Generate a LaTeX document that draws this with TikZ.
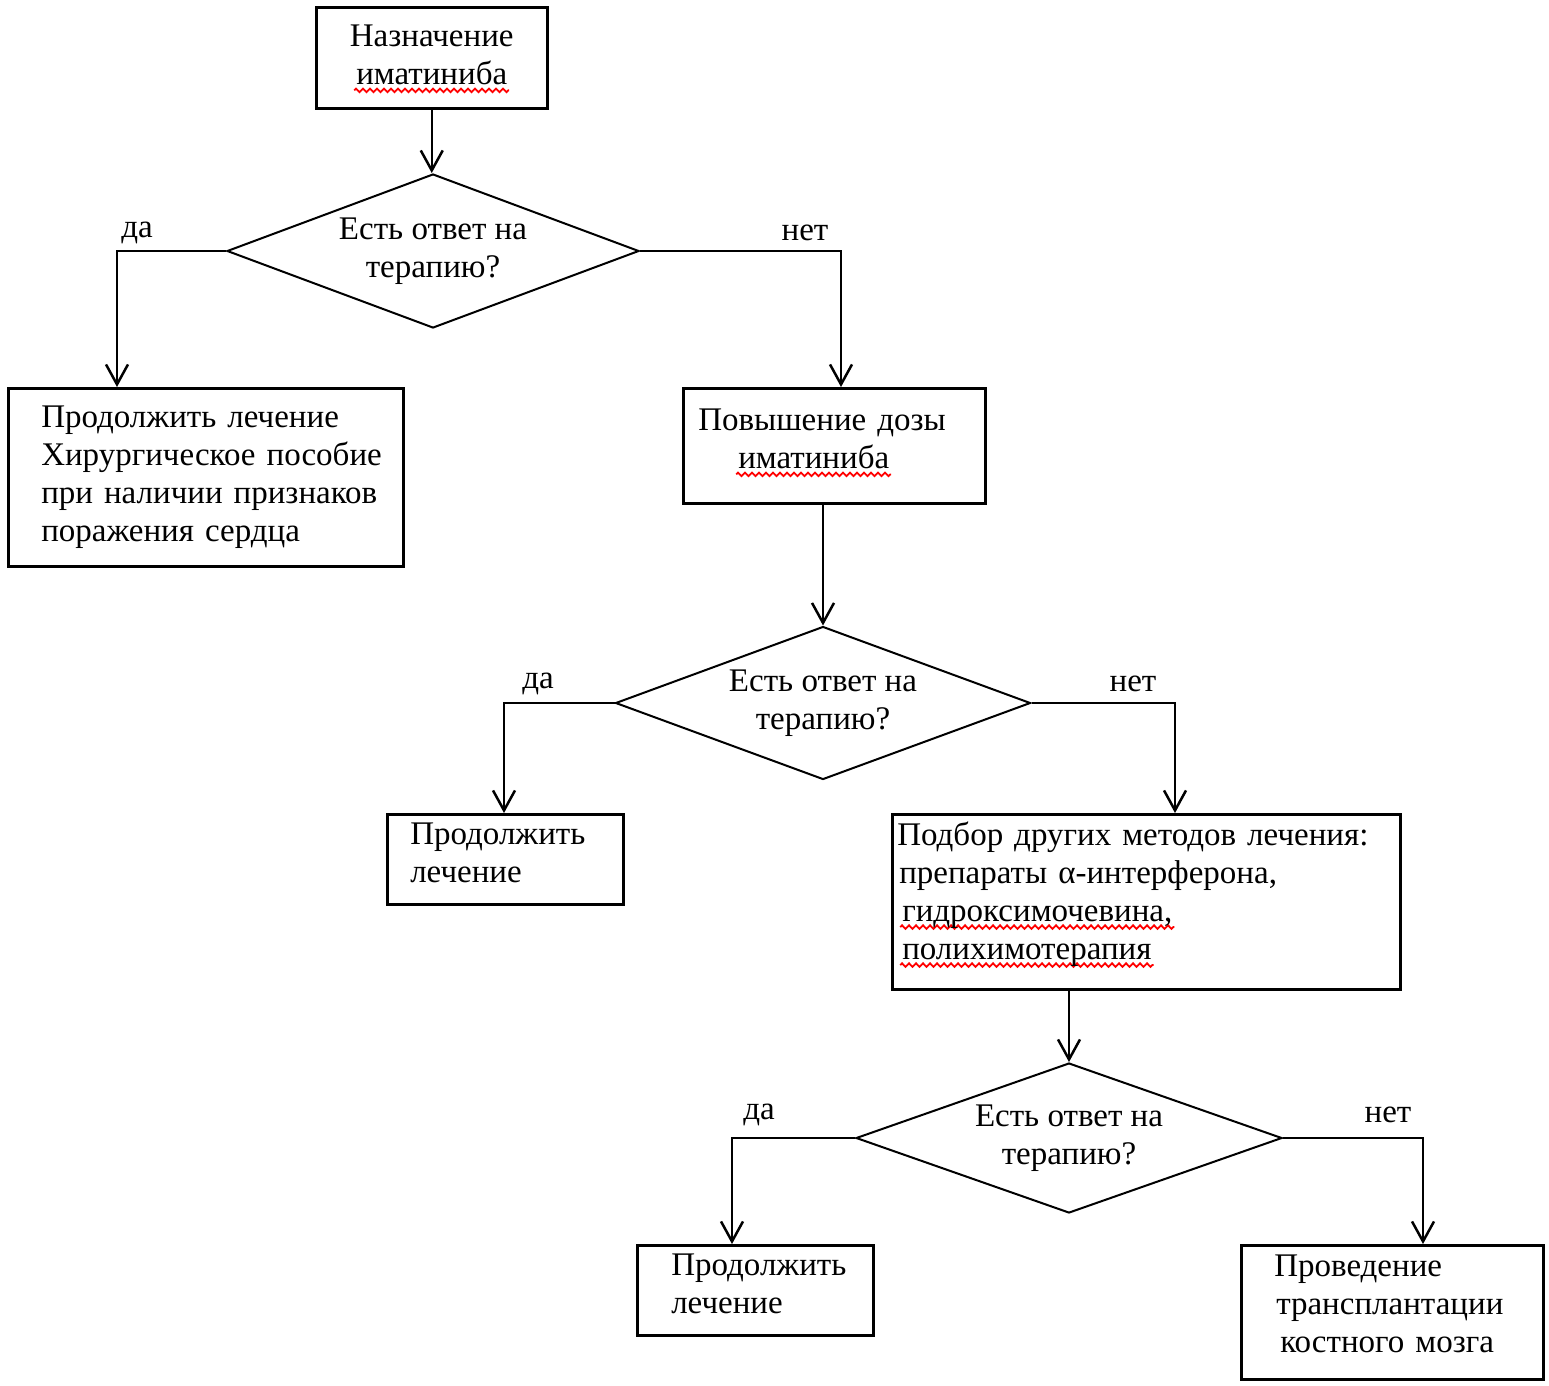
\documentclass[tikz,border=0pt]{standalone}
\usepackage{fontspec}
\setmainfont{Liberation Serif}
\usepackage{tikz}
\usetikzlibrary{arrows.meta,shapes.geometric,decorations.pathmorphing}

\newsavebox\spellbox
\newlength\spellw
\newcommand\spell[1]{\leavevmode\sbox\spellbox{#1}\setlength\spellw{\wd\spellbox}%
\rlap{\tikz[overlay]\draw[red,line width=1.8pt,decorate,decoration={zigzag,segment length=7pt,amplitude=1.8pt}] (-2pt,-6pt) -- (\spellw+2pt,-6pt);}\usebox\spellbox}
\newcommand\lift[1]{\par\vspace*{#1}\nointerlineskip\hbox{}}

\begin{document}
\begin{tikzpicture}[x=1pt,y=-1pt,font=\fontsize{33}{38}\selectfont]
\tikzset{box/.style = {draw, line width=2.5pt, anchor=north west, inner xsep=4pt, inner ysep=0pt, align=left}}
\tikzset{test/.style = {shape=diamond, draw, line width=2pt, aspect=2.7, inner sep=0pt, align=center}}
\tikzset{edge/.style = {-{Straight Barb[length=20pt,width=22pt]}, line width=2.5pt}}
\tikzset{answer/.style = {inner sep=0pt}}
\useasboundingbox (0,0) rectangle (1549,1385);
% boxes and questions
\node[box, align=center, text width=223pt, minimum height=101pt] (start) at (315,6) {Назначение\\\spell{иматиниба}\lift{6pt}};
\node[test, minimum width=412pt, minimum height=154pt] (q1) at (433,251) {Есть ответ на\\терапию?};
\node[box, text width=387pt, minimum height=178pt] (cont1) at (7,387) {\leftskip=29pt Продолжить лечение\\Хирургическое пособие\\при наличии признаков\\поражения сердца\par};
\node[box, text width=294pt, minimum height=115pt] (dose) at (682,387) {\leftskip=11pt Повышение дозы\\\hspace*{40pt}\spell{иматиниба}\lift{14pt}};
\node[test, minimum width=415pt, minimum height=153pt] (q2) at (823,703) {Есть ответ на\\терапию?};
\node[box, text width=228pt, minimum height=90pt] (cont2) at (386,813) {\leftskip=19pt Продолжить\\лечение\lift{12pt}};
\node[box, text width=500pt, minimum height=175pt] (other) at (891,813) {\leftskip=1pt Подбор других методов лечения:\\\hspace*{2pt}препараты α-интерферона,\\\hspace*{5pt}\spell{гидроксимочевина,}\\\hspace*{5pt}\spell{полихимотерапия}\lift{16pt}};
\node[test, minimum width=426pt, minimum height=150pt] (q3) at (1069,1138) {Есть ответ на\\терапию?};
\node[box, text width=228pt, minimum height=90pt] (cont3) at (636,1244) {\leftskip=30pt Продолжить\\лечение\lift{12pt}};
\node[box, text width=294pt, minimum height=134pt] (bmt) at (1240,1244) {\leftskip=29pt Проведение\\\hspace*{2pt}трансплантации\\\hspace*{6pt}костного мозга\lift{16pt}};
% answers
\node[answer] (yes1) at (137,233) {да};
\node[answer] (no1) at (805,233) {нет};
\node[answer] (yes2) at (538,684) {да};
\node[answer] (no2) at (1133,684) {нет};
\node[answer] (yes3) at (759,1115) {да};
\node[answer] (no3) at (1388,1115) {нет};
% edges
\draw[edge] (start.south) -- (start.south |- q1.north);
\draw[edge] (q1.west) -| ([xshift=110pt]cont1.north west);
\draw[edge] (q1.east) -| ([xshift=159pt]dose.north west);
\draw[edge] (q2.north |- dose.south) -- (q2.north);
\draw[edge] (q2.west) -| ([xshift=118pt]cont2.north west);
\draw[edge] (q2.east) -| ([xshift=284pt]other.north west);
\draw[edge] (q3.north |- other.south) -- (q3.north);
\draw[edge] (q3.west) -| ([xshift=96pt]cont3.north west);
\draw[edge] (q3.east) -| ([xshift=183pt]bmt.north west);
\end{tikzpicture}
\end{document}
